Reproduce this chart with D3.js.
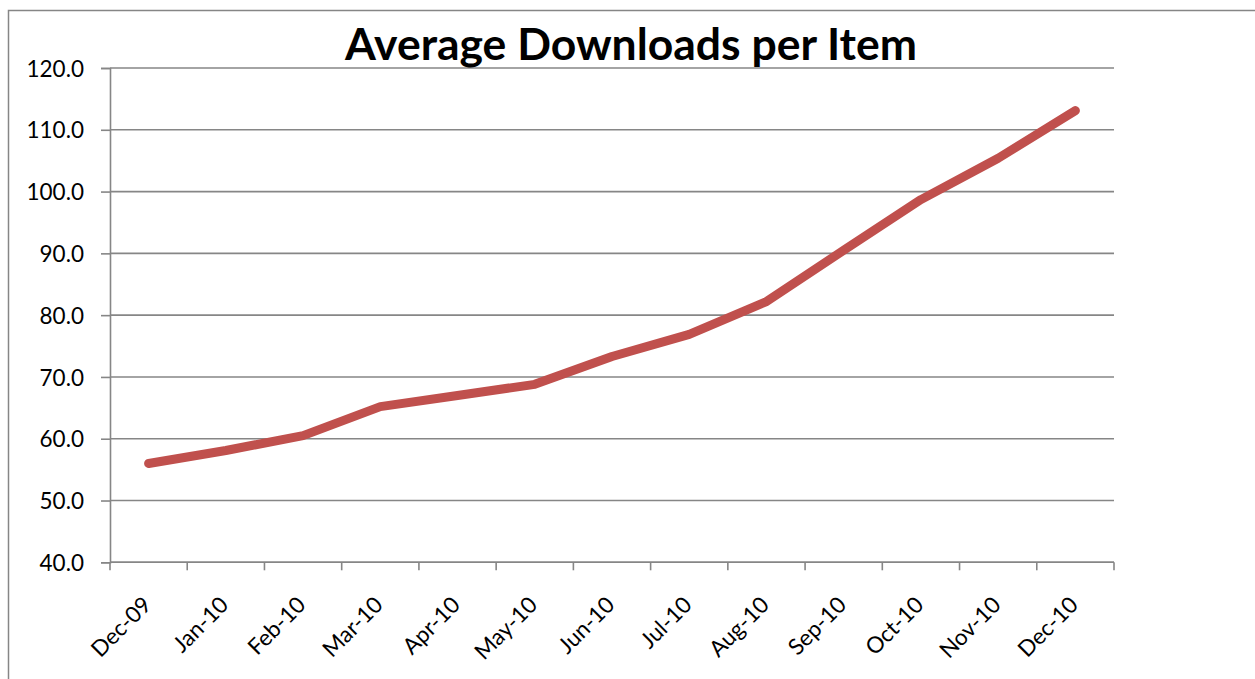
<!DOCTYPE html>
<html>
<head>
<meta charset="utf-8">
<script src="https://cdn.jsdelivr.net/npm/d3@7"></script>
<style>
  html, body { margin: 0; padding: 0; background: #fff; }
  svg { display: block; }
  text { font-family: Lato, "Open Sans", sans-serif; fill: #000; }
</style>
</head>
<body>
<svg id="chart" width="1255" height="679"></svg>
<script>
const categories = ["Dec-09","Jan-10","Feb-10","Mar-10","Apr-10","May-10","Jun-10","Jul-10","Aug-10","Sep-10","Oct-10","Nov-10","Dec-10"];
const values = [56.0, 58.1, 60.5, 65.2, 67.0, 68.8, 73.3, 76.9, 82.2, 90.5, 98.7, 105.4, 113.1];
const yTicks = [40, 50, 60, 70, 80, 90, 100, 110, 120];
const title = "Average Downloads per Item";

const svg = d3.select("#chart");
const W = 1255, H = 679;
const m = { left: 110, right: W - 1114, top: 68, bottom: H - 562.3 };

// helper: font size so that a string has a target width
function fitSize(str, target, weight) {
  const tmp = svg.append("text").style("font-size", "100px").style("font-weight", weight || "normal").text(str);
  const w = tmp.node().getComputedTextLength();
  tmp.remove();
  return 100 * target / w;
}
const tickFont = fitSize("120.0", 57.5);
const titleFont = fitSize(title, 572, "bold");

// outer frame
svg.append("rect")
  .attr("x", 8.5).attr("y", 10.5)
  .attr("width", 1260).attr("height", 700)
  .attr("fill", "none").attr("stroke", "#868686").attr("stroke-width", 1.5);

const x = d3.scaleBand().domain(categories).range([m.left, W - m.right]).padding(0);
const y = d3.scaleLinear().domain([40, 120]).range([H - m.bottom, m.top]);

// gridlines
svg.append("g").selectAll("line").data(yTicks).join("line")
  .attr("x1", m.left).attr("x2", W - m.right)
  .attr("y1", d => y(d)).attr("y2", d => y(d))
  .attr("stroke", "#868686").attr("stroke-width", 1.6);

// y axis
const yAxis = svg.append("g")
  .attr("transform", `translate(${m.left},0)`)
  .call(d3.axisLeft(y).tickValues(yTicks).tickFormat(d3.format(".1f")).tickSize(9).tickPadding(17));
yAxis.select(".domain").attr("stroke", "#868686").attr("stroke-width", 1.6);
yAxis.selectAll(".tick line").attr("stroke", "#868686").attr("stroke-width", 1.6);
yAxis.selectAll("text").style("font-size", tickFont + "px").attr("fill", "#000").attr("dy", "0.36em");

// x axis line
const xAxisG = svg.append("g").attr("transform", `translate(0,${y(40)})`);
xAxisG.append("line")
  .attr("x1", m.left).attr("x2", W - m.right)
  .attr("stroke", "#868686").attr("stroke-width", 1.6);
const boundaries = categories.map(c => x(c)).concat([x(categories[categories.length - 1]) + x.bandwidth()]);
xAxisG.selectAll("line.tk").data(boundaries).join("line").attr("class", "tk")
  .attr("x1", d => d).attr("x2", d => d).attr("y1", 0).attr("y2", 8)
  .attr("stroke", "#868686").attr("stroke-width", 1.6);

xAxisG.selectAll("text.lbl").data(categories).join("text").attr("class", "lbl")
  .attr("transform", d => `translate(${x(d) + x.bandwidth() / 2 + 4},${44}) rotate(-45)`)
  .attr("text-anchor", "end")
  .style("font-size", tickFont + "px")
  .text(d => d);

// line
const line = d3.line()
  .x((d, i) => x(categories[i]) + x.bandwidth() / 2)
  .y(d => y(d));
svg.append("path").datum(values)
  .attr("d", line)
  .attr("fill", "none")
  .attr("stroke", "#C0504D")
  .attr("stroke-width", 9)
  .attr("stroke-linejoin", "round")
  .attr("stroke-linecap", "round");

// title
svg.append("text")
  .attr("x", 631).attr("y", 60)
  .attr("text-anchor", "middle")
  .style("font-size", titleFont + "px").style("font-weight", "bold")
  .text(title);
</script>
</body>
</html>
